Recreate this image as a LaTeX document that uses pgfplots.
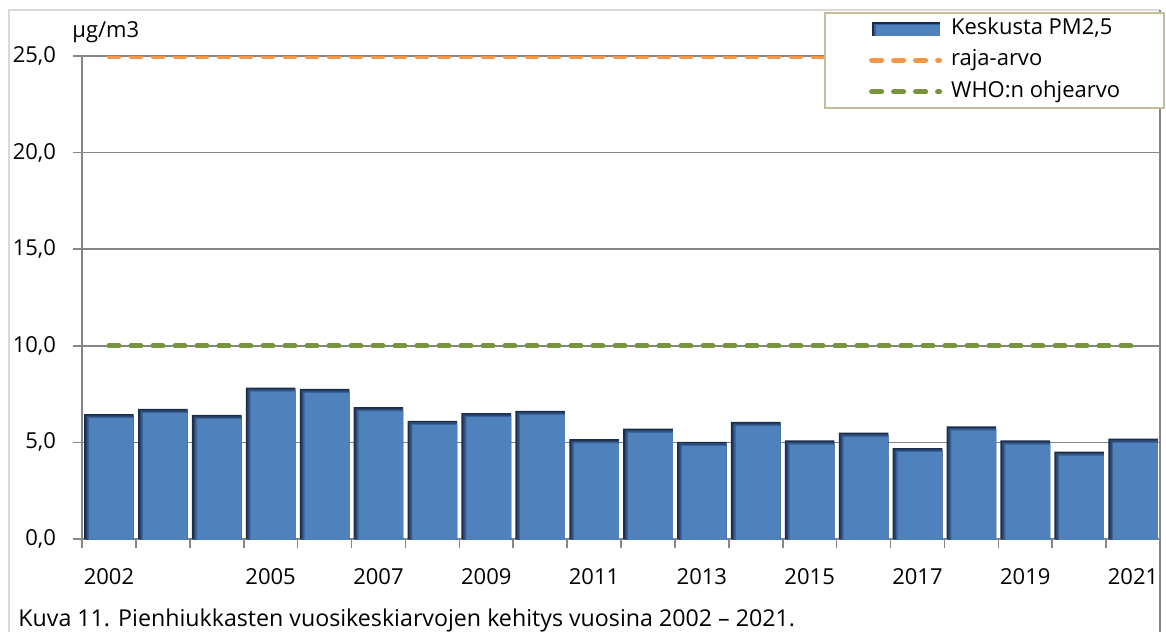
\documentclass[border=0pt]{standalone}
\usepackage{fontspec}
\setmainfont{Open Sans}
\usepackage{pgfplots}
\pgfplotsset{compat=1.18}

\definecolor{barblue}{RGB}{79,129,189}
\definecolor{bardark}{RGB}{25,45,75}
\definecolor{barmidA}{RGB}{40,70,112}
\definecolor{barmidB}{RGB}{58,98,150}
\definecolor{rajaor}{RGB}{247,150,70}
\definecolor{whogreen}{RGB}{119,147,60}
\definecolor{gridgray}{RGB}{134,134,134}
\definecolor{bordergray}{RGB}{217,217,217}
\definecolor{legborder}{RGB}{196,189,151}

\pgfplotsset{
  barleg/.style={legend image code/.code={
     \fill[bardark] (0pt,-3.5pt) rectangle (34pt,3.5pt);
     \fill[barmidB] (1.2pt,-3.5pt) rectangle (34pt,2.6pt);
     \fill[barblue] (2.4pt,-3.5pt) rectangle (34pt,1.8pt);}},
  lineleg/.style={legend image code/.code={\draw[##1] (0pt,0pt) -- (34pt,0pt);}},
}

\pgfplotstableread{
x y
0 6.47
1 6.73
2 6.42
3 7.84
4 7.77
5 6.82
6 6.12
7 6.52
8 6.63
9 5.17
10 5.71
11 5.03
12 6.06
13 5.10
14 5.50
15 4.71
16 5.83
17 5.10
18 4.52
19 5.19
}\pmdata

\begin{document}
\begin{tikzpicture}[x=1pt,y=1pt]
\useasboundingbox (0,0) rectangle (583,316);
\draw[bordergray, line width=0.6pt] (4.5,0) -- (4.5,311) -- (580,311);
\draw[gridgray, line width=0.8pt] (580,0) -- (580,311);
\begin{axis}[
  name=ax,
  at={(41pt,46.5pt)}, anchor=south west,
  width=539pt, height=241.5pt, scale only axis,
  xmin=-0.5, xmax=19.5, ymin=0, ymax=25,
  axis line style={gridgray, line width=0.9pt},
  ymajorgrids, grid style={gridgray, line width=0.8pt},
  ytick={0,5,...,25},
  xtick={-0.5,0.5,...,19.5},
  x tick label as interval,
  xticklabels={2002,,,2005,,2007,,2009,,2011,,2013,,2015,,2017,,2019,,2021},
  tick align=outside, tick pos=left,
  major tick length=4.5pt,
  tick style={gridgray, line width=0.8pt},
  tick label style={font=\fontsize{11}{13}\selectfont, text=black},
  /pgf/number format/fixed, /pgf/number format/fixed zerofill,
  /pgf/number format/precision=1, /pgf/number format/use comma,
  /pgf/number format/assume math mode=true,
  xticklabel style={yshift=-6.5pt},
  yticklabel style={xshift=-5pt},
  legend cell align=left,
  legend style={at={(1.0046,1.091)}, anchor=north east, draw=legborder, line width=0.8pt,
    fill=white, font=\fontsize{11}{13}\selectfont, inner xsep=22pt, inner ysep=2.75pt,
    row sep=5.25pt, nodes={inner sep=0pt, text height=8pt, text depth=2.5pt},
    /tikz/every odd column/.append style={column sep=4.5pt}},
]
\addplot[ybar, bar width=0.92, bar shift=0, draw=none, fill=bardark, barleg]
  table[x=x, y=y] {\pmdata};
\addlegendentry{Keskusta PM2,5}
\addplot[ybar, bar width=0.89, bar shift=0.015, draw=none, fill=barmidA, yshift=-0.7pt, forget plot]
  table[x=x, y=y] {\pmdata};
\addplot[ybar, bar width=0.86, bar shift=0.03, draw=none, fill=barmidB, yshift=-1.4pt, forget plot]
  table[x=x, y=y] {\pmdata};
\addplot[ybar, bar width=0.83, bar shift=0.045, draw=none, fill=barblue, yshift=-2.1pt, forget plot]
  table[x=x, y=y] {\pmdata};
\addplot[rajaor, line width=2.5pt, dash pattern=on 5pt off 6pt, line cap=round, lineleg]
  coordinates {(0,25) (19,25)};
\addlegendentry{raja-arvo}
\addplot[whogreen, line width=2.5pt, dash pattern=on 5pt off 6pt, line cap=round, lineleg]
  coordinates {(0,10) (19,10)};
\addlegendentry{WHO:n ohjearvo}
\end{axis}
\node[anchor=base west, font=\fontsize{11}{13}\selectfont, inner sep=0pt, xshift=-5pt, yshift=9.5pt] at (ax.north west) {µg/m3};
\node[anchor=base west, inner sep=0pt, font=\fontsize{11.6}{14}\selectfont] at (9,3) {Kuva 11. Pienhiukkasten vuosikeskiarvojen kehitys vuosina 2002 – 2021.};
\end{tikzpicture}
\end{document}
